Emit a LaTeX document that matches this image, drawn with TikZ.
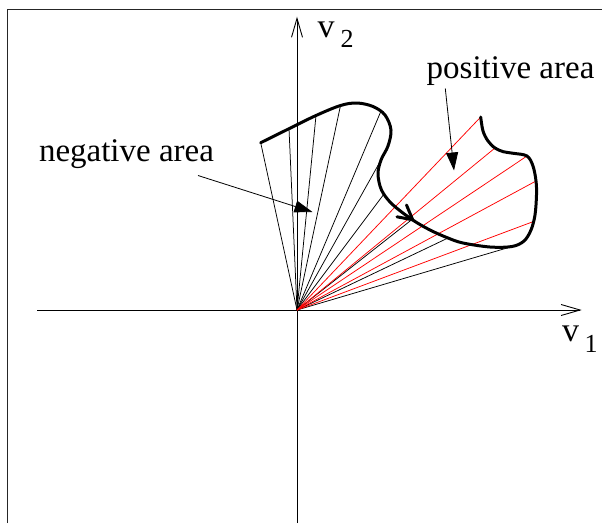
\documentclass[tikz,border=0pt]{standalone}
\usepackage{fontspec}
\setmainfont{Liberation Serif}
\usetikzlibrary{arrows.meta}
\begin{document}
\begin{tikzpicture}[x=1pt,y=-1pt,
  frame/.style={line width=1.2pt, draw=black!85},
  axis/.style={line width=0.9pt, -{Straight Barb[length=19pt,width=11pt]}},
  fanneg/.style={line width=0.75pt, black},
  fanpos/.style={line width=0.75pt, red},
  bound/.style={line width=3pt, line cap=round, line join=round},
  note/.style={line width=0.8pt, -{Triangle[length=18pt,width=12pt]}},
  lbl/.style={inner sep=0pt, anchor=base west, font=\fontsize{33}{40}\selectfont},
  vlbl/.style={inner sep=0pt, anchor=base west, font=\fontsize{34}{40}\selectfont},
  sublbl/.style={inner sep=0pt, anchor=base west, font=\fontsize{26}{30}\selectfont}]
\useasboundingbox (0,0) rectangle (602,523);

% frame
\draw[frame] (7.5,523) -- (7.5,9.5) -- (602,9.5);

% axes
\coordinate (O) at (297,310);
\coordinate (xl) at (37,310);
\coordinate (xr) at (581.7,310);
\coordinate (yb) at (297,523);
\coordinate (yt) at (297,16.7);
\draw[axis] (xl) -- (xr);
\draw[axis] (yb) -- (yt);

% fan end points on the curve
\coordinate (n1) at (260.7,142.7);
\coordinate (n2) at (289,128.7);
\coordinate (n3) at (316,115.5);
\coordinate (n4) at (340.5,105.5);
\coordinate (n5) at (381,111);
\coordinate (n6) at (381,160);
\coordinate (n7) at (384,194);
\coordinate (n8) at (412,219.5);
\coordinate (n9) at (448,238);
\coordinate (n10) at (512,246.5);
\coordinate (p1) at (480.7,117);
\coordinate (p2) at (495,148);
\coordinate (p3) at (527,156);
\coordinate (p4) at (536,181);
\coordinate (p5) at (533.5,221.5);

\foreach \e in {n1,n2,n3,n4,n5,n6,n7,n8,n9,n10}
  \draw[fanneg] (O) -- (\e);
\foreach \e in {p1,p2,p3,p4,p5}
  \draw[fanpos] (O) -- (\e);

% boundary curve
\draw[bound] plot[smooth, tension=0.55] coordinates {
  (260.7,142.7) (289,128.7) (316,115.5) (340.5,105.5) (357,103) (373,106.5)
  (385,115) (391,130) (388,146) (381,160) (378,174) (381.5,190) (392,204)
  (412,219.5) (430,230) (448,238) (463,243) (490,247) (512,246.5) (524,241)
  (531,230) (535,215) (536.5,195) (536,181) (533,166) (527,156) (513.5,153.3)
  (503.3,151.7) (495,148) (488,141) (483,131) (480.7,117)};

% arrowhead on the curve
\coordinate (ct) at (412.7,219.8);
\coordinate (cb1) at (406.5,205);
\coordinate (cb2) at (397,216.8);
\draw[bound, line join=miter] (cb1) -- (ct) -- (cb2);

% labels
\node[lbl] (neg) at (38.8,161.7) {negative area};
\node[lbl] (pos) at (426.5,78.5) {positive area};
\coordinate (negs) at (198,175.5);
\coordinate (negt) at (312.5,212);
\coordinate (poss) at (445.3,88.5);
\coordinate (post) at (454,170.5);
\draw[note] (negs) -- (negt);
\draw[note] (poss) -- (post);

\node[vlbl] (v2) at (317.5,37) {v};
\node[sublbl] (s2) at (340.5,47) {2};
\node[vlbl] (v1) at (562,341) {v};
\node[sublbl] (s1) at (584.5,352) {1};
\end{tikzpicture}
\end{document}
